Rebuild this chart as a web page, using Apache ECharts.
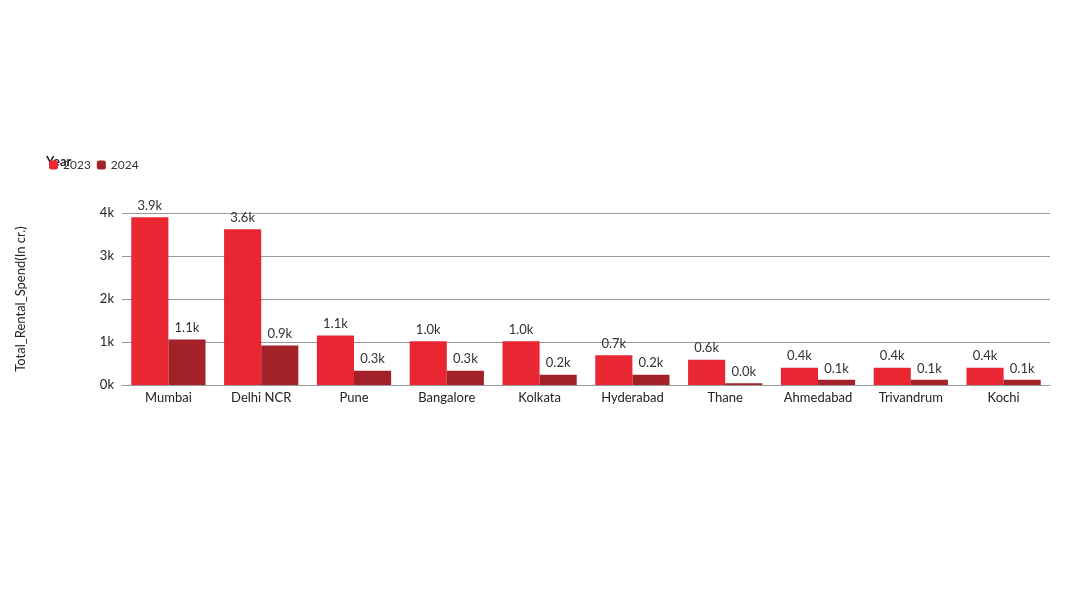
<!DOCTYPE html><html><head><meta charset="utf-8"><script src="https://cdn.jsdelivr.net/npm/echarts@6/dist/echarts.min.js"></script></head><body style="margin:0"><div id="c" style="width:1080px;height:593px"></div><script>
const categories=['Mumbai','Delhi NCR','Pune','Bangalore','Kolkata','Hyderabad','Thane','Ahmedabad','Trivandrum','Kochi'];
const v2023=[3900,3620,1150,1020,1020,690,590,400,400,400];
const v2024=[1060,920,330,330,240,240,40,120,120,120];
const yTicks=[0,1000,2000,3000,4000];
const fmt=v=>(v/1000).toFixed(1)+'k';
const ff='Lato, sans-serif';
const lab={show:true,position:'top',formatter:p=>fmt(p.value),color:'#333',fontSize:13,fontFamily:ff};
echarts.init(document.getElementById('c')).setOption({
animation:false,
legend:{left:44,top:154,itemWidth:9,itemHeight:9,itemGap:6,textStyle:{fontSize:12,color:'#333',fontFamily:ff},data:['2023','2024']},
graphic:[{type:'text',left:46,top:155,style:{text:'Year',font:'bold 13px Lato, sans-serif',fill:'#222'}}],
grid:{left:122,right:30,top:213,bottom:208},
xAxis:{type:'category',data:categories,axisTick:{show:false},axisLine:{lineStyle:{color:'#999'}},axisLabel:{color:'#222',fontSize:13,fontFamily:ff,margin:6}},
yAxis:{type:'value',min:yTicks[0],max:yTicks[yTicks.length-1],interval:1000,name:'Total_Rental_Spend(In cr.)',nameLocation:'middle',nameGap:95,nameTextStyle:{fontSize:13,color:'#222',fontFamily:ff},axisLabel:{formatter:v=>(v/1000)+'k',color:'#222',fontSize:13,fontFamily:ff},splitLine:{lineStyle:{color:'#999'}}},
series:[{name:'2023',type:'bar',data:v2023,itemStyle:{color:'#E82732'},barGap:'0%',barCategoryGap:'20%',label:lab},
{name:'2024',type:'bar',data:v2024,itemStyle:{color:'#A3222A'},label:lab}]
});
</script></body></html>
